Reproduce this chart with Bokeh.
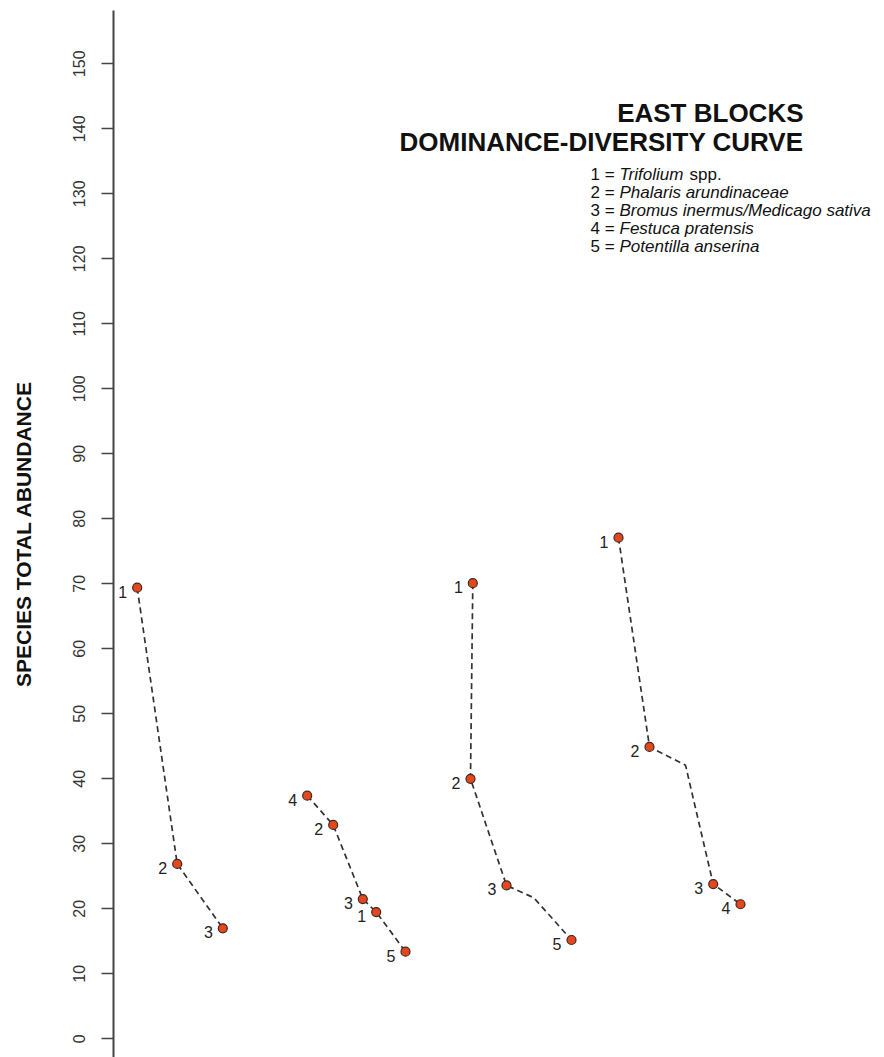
from bokeh.plotting import figure
from bokeh.models import Range1d, FixedTicker, Label
from bokeh.core.properties import value
from bokeh.embed import file_html
from bokeh.resources import INLINE

# Dominance-diversity curves for the four east blocks.
# Each block: horizontal plotting position, total abundance, species number.
# An empty species number marks a bend in the connecting line (no point drawn).
block_x = [
    [2.37, 6.37, 10.93],
    [19.37, 21.97, 24.93, 26.27, 29.2],
    [35.93, 35.7, 39.3, 42.03, 45.8],
    [50.5, 53.6, 57.2, 59.97, 62.7],
]
block_abundance = [
    [69.4, 26.9, 17.0],
    [37.4, 32.9, 21.5, 19.5, 13.4],
    [70.1, 40.0, 23.6, 21.7, 15.2],
    [77.1, 44.9, 42.1, 23.8, 20.7],
]
block_species = [
    ["1", "2", "3"],
    ["4", "2", "3", "1", "5"],
    ["1", "2", "3", "", "5"],
    ["1", "2", "", "3", "4"],
]

y_ticks = list(range(0, 151, 10))

legend_num = ["1 = ", "2 = ", "3 = ", "4 = ", "5 = "]
legend_name = [
    "Trifolium",
    "Phalaris arundinaceae",
    "Bromus inermus/Medicago sativa",
    "Festuca pratensis",
    "Potentilla anserina",
]
legend_y = [132.9, 130.15, 127.4, 124.65, 121.9]

title_lines = ["EAST BLOCKS", "DOMINANCE-DIVERSITY CURVE"]
title_y = [142.4, 138.0]

FONT = value("Liberation Sans")

p = figure(
    width=884, height=1057,
    x_range=Range1d(0, 77.1), y_range=Range1d(-2.88, 158.2),
    x_axis_location=None,
    output_backend="svg", toolbar_location=None,
    min_border_left=113, min_border_right=0,
    min_border_top=10, min_border_bottom=0,
)
p.xgrid.visible = False
p.ygrid.visible = False
p.outline_line_color = None
p.background_fill_color = "white"
p.border_fill_color = "white"

ax = p.yaxis[0]
ax.ticker = FixedTicker(ticks=y_ticks)
ax.major_label_orientation = "vertical"
ax.major_label_text_font = "Liberation Sans"
ax.major_label_text_font_size = "16px"
ax.major_label_text_color = "#333333"
ax.major_label_standoff = 16
ax.major_tick_in = 0
ax.major_tick_out = 12
ax.minor_tick_in = 0
ax.minor_tick_out = 0
ax.axis_line_color = "#444444"
ax.axis_line_width = 2
ax.major_tick_line_color = "#444444"
ax.major_tick_line_width = 1.5
ax.axis_label = "SPECIES TOTAL ABUNDANCE"
ax.axis_label_text_font = "Liberation Sans"
ax.axis_label_text_font_style = "bold"
ax.axis_label_text_font_size = "21px"
ax.axis_label_text_color = "#111111"
ax.axis_label_standoff = 36

for xs, ys, sp in zip(block_x, block_abundance, block_species):
    p.line(xs, ys, line_color="#333333", line_width=1.7, line_dash="6 4")
    px = [x for x, s in zip(xs, sp) if s]
    py = [y for y, s in zip(ys, sp) if s]
    ps = [s for s in sp if s]
    p.scatter(px, py, size=9, fill_color="#E5461E", line_color="#3a2a20", line_width=1.2)
    p.text(px, py, text=ps, text_align="right", text_baseline="middle",
           x_offset=-10, y_offset=4, text_font=FONT, text_font_size="16px",
           text_color="#222222")

for t, ty in zip(title_lines, title_y):
    p.add_layout(Label(x=69.0, y=ty, text=t, text_align="right",
                       text_baseline="alphabetic",
                       text_font="Liberation Sans", text_font_style="bold",
                       text_font_size="26px", text_color="#111111"))

legend_x = 47.7
p.text([legend_x] * 5, legend_y, text=legend_num, text_font=FONT,
       text_font_size="17px", text_color="#111111", text_baseline="alphabetic")
p.text([legend_x] * 5, legend_y, text=legend_name, text_font=FONT,
       text_font_style="italic", x_offset=29,
       text_font_size="17px", text_color="#111111", text_baseline="alphabetic")
p.add_layout(Label(x=legend_x, y=legend_y[0], text="spp.", x_offset=99,
                   text_baseline="alphabetic",
                   text_font="Liberation Sans", text_font_size="17px",
                   text_color="#111111"))

open("out.html", "w").write(file_html(p, INLINE))
